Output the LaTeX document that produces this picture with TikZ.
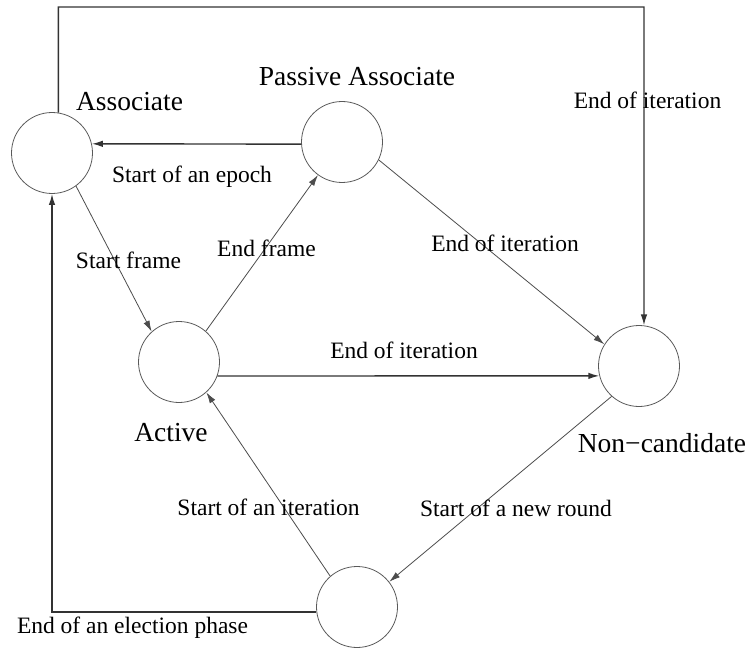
\documentclass[tikz,border=0pt]{standalone}
\usepackage{fontspec}
\setmainfont{Liberation Serif}
\usetikzlibrary{arrows.meta}
\tikzset{
  state/.style={circle, draw=black!65, line width=0.8pt, minimum size=81pt, inner sep=0pt},
  statename/.style={font=\fontsize{27.5}{30}\selectfont, text=black, inner sep=0pt},
  edgelabel/.style={font=\fontsize{23.5}{26}\selectfont, text=black, inner sep=0pt},
  tip/.style={-{Latex[length=11pt,width=6.5pt]}},
  heavy/.style={tip, draw=black!80, line width=1.4pt},
  light/.style={tip, draw=black!70, line width=0.8pt},
}
\begin{document}
\begin{tikzpicture}[x=1pt, y=-1pt]
  \useasboundingbox (0,0) rectangle (750,650);

  % states
  \node[state] (A)  at (52,153)  {};
  \node[state] (P)  at (342,142) {};
  \node[state] (Ac) at (179,362) {};
  \node[state] (N)  at (639,366) {};
  \node[state] (B)  at (357,607) {};

  % state names
  \node[statename] (nA)  at (129.5,102) {Associate};
  \node[statename] (nP)  at (357,77)    {Passive Associate};
  \node[statename] (nAc) at (171,433)   {Active};
  \node[statename] (nN)  at (662,443)   {Non{\char"2212}candidate};

  % corner point of the outer route along the top
  \coordinate (tr) at (644,7);

  % transitions
  \draw[heavy] (A.81) |- (tr) -- (N.83);
  \draw[heavy] (P.183) -- (A.13);
  \draw[light] (A.-54) -- (Ac.132);
  \draw[light] (Ac.49) -- (P.234);
  \draw[light] (P.-26) -- (N.148);
  \draw[heavy] (Ac.-20) -- (N.194);
  \draw[light] (N.228) -- (B.38);
  \draw[light] (B.131) -- (Ac.-48);
  \draw[heavy] (B.187) -| (A.south);

  % transition labels
  \node[edgelabel] (l1) at (647.5,100) {End of iteration};
  \node[edgelabel] (l2) at (192,177)   {Start of an epoch};
  \node[edgelabel] (l3) at (128.5,260) {Start frame};
  \node[edgelabel] (l4) at (266.5,248) {End frame};
  \node[edgelabel] (l5) at (505,243)   {End of iteration};
  \node[edgelabel] (l6) at (404,350)   {End of iteration};
  \node[edgelabel] (l7) at (268.5,507) {Start of an iteration};
  \node[edgelabel] (l8) at (516,508)   {Start of a new round};
  \node[edgelabel] (l9) at (132.5,628) {End of an election phase};
\end{tikzpicture}
\end{document}
